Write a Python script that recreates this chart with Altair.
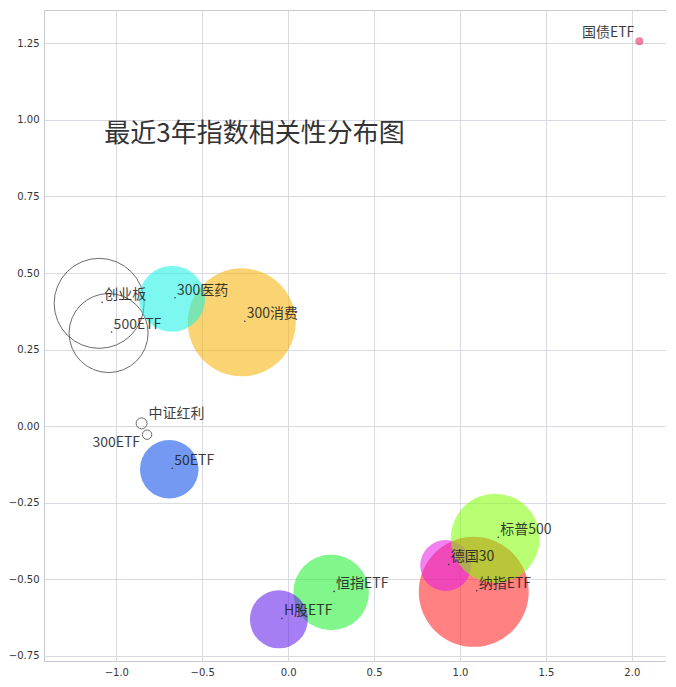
import altair as alt
import pandas as pd

# ---- data ----
names = ["创业板", "500ETF", "300消费", "300医药", "中证红利", "300ETF", "50ETF",
         "恒指ETF", "H股ETF", "纳指ETF", "德国30", "标普500", "国债ETF"]
x_vals = [-1.100, -1.045, -0.270, -0.676, -0.853, -0.821, -0.692,
          0.250, -0.054, 1.080, 0.917, 1.205, 2.044]
y_vals = [0.401, 0.304, 0.339, 0.416, 0.009, -0.028, -0.141,
          -0.543, -0.631, -0.541, -0.455, -0.366, 1.257]
size_vals = [81.0, 62.4, 116.6, 43.6, 1.21, 0.88, 34.3,
             57.2, 33.6, 121.0, 26.0, 79.2, 0.64]

outline_names = ["创业板", "500ETF", "中证红利", "300ETF"]
filled_names = ["300消费", "300医药", "50ETF", "恒指ETF", "H股ETF",
                "纳指ETF", "德国30", "标普500", "国债ETF"]
filled_colors = ["#f6b100", "#13f2e4", "#0246e7", "#1aee2a", "#5d14eb",
                 "#ff1a1a", "#e61ae6", "#80ff00", "#dc1e50"]

x_ticks = [-1.0, -0.5, 0.0, 0.5, 1.0, 1.5, 2.0]
y_ticks = [-0.75, -0.5, -0.25, 0.0, 0.25, 0.5, 0.75, 1.0, 1.25]

title_text = ["最近3年指数相关性分布图"]
title_x = [-1.07]
title_y = [0.928]

df = pd.DataFrame({"name": names, "x": x_vals, "y": y_vals, "s": size_vals})
df["order"] = range(len(df))
title_df = pd.DataFrame({"t": title_text, "x": title_x, "y": title_y})

FONT = "Noto Sans CJK SC"

xs = alt.Scale(domain=[-1.421, 2.199], nice=False, zero=False)
ys = alt.Scale(domain=[-0.767, 1.359], nice=False, zero=False)
X = alt.X("x:Q", scale=xs,
          axis=alt.Axis(values=x_ticks, format=".1f", labelPadding=6, title=None))
Y = alt.Y("y:Q", scale=ys,
          axis=alt.Axis(values=y_ticks, format=".2f", labelPadding=5,
                        minExtent=36, maxExtent=36, title=None))
S = alt.Size("s:Q", scale=alt.Scale(domain=[0, 100], range=[0, 10000]), legend=None)

base = alt.Chart(df).encode(x=X, y=Y)

default_labels = ["创业板", "500ETF", "300消费", "300医药", "50ETF",
                  "恒指ETF", "H股ETF", "纳指ETF", "德国30", "标普500"]

def labels(sel, **kw):
    return base.transform_filter(
        alt.FieldOneOfPredicate(field="name", oneOf=sel)
    ).mark_text(font=FONT, fontSize=14, color="#1a1a1a", opacity=0.85, **kw).encode(text="name:N")

t_default = labels(default_labels, align="left", baseline="alphabetic", dx=5, dy=-4)
t_zz = labels(["中证红利"], align="left", baseline="alphabetic", dx=7, dy=-5)
t_300 = labels(["300ETF"], align="right", baseline="alphabetic", dx=-7, dy=12)
t_gz = labels(["国债ETF"], align="right", baseline="alphabetic", dx=-5, dy=-4)

dots = base.transform_filter(
    alt.FieldOneOfPredicate(field="name", oneOf=default_labels)
).mark_circle(size=2.5, color="#333333", opacity=1, xOffset=3, yOffset=-1)

title = alt.Chart(title_df).mark_text(
    font=FONT, fontSize=26, color="#333333", align="left", baseline="alphabetic"
).encode(x=alt.X("x:Q", scale=xs), y=alt.Y("y:Q", scale=ys), text="t:N")

outline = base.transform_filter(
    alt.FieldOneOfPredicate(field="name", oneOf=outline_names)
).mark_circle(fill="transparent", fillOpacity=0, stroke="#5a5a5a",
              strokeWidth=0.9, opacity=1).encode(size=S, order="order:Q")

filled = base.transform_filter(
    alt.FieldOneOfPredicate(field="name", oneOf=filled_names)
).mark_circle(opacity=1, fillOpacity=0.55, strokeWidth=0).encode(
    size=S,
    color=alt.Color("name:N", scale=alt.Scale(domain=filled_names, range=filled_colors),
                    legend=None),
    order="order:Q",
)

chart = alt.layer(
    title, outline, filled, dots, t_default, t_zz, t_300, t_gz
).properties(
    width=622, height=651,
    padding={"left": 0, "top": 2, "right": 0, "bottom": 0},
    background="white",
).configure_view(
    stroke="#c8c8d0", strokeWidth=1
).configure_axis(
    grid=True, gridColor="#d9d9e2", gridWidth=1, domain=False, ticks=False,
    labelFont="DejaVu Sans", labelFontSize=10, labelColor="#333333",
)

chart.save("out.html", embed_options={"renderer": "svg", "actions": False})
